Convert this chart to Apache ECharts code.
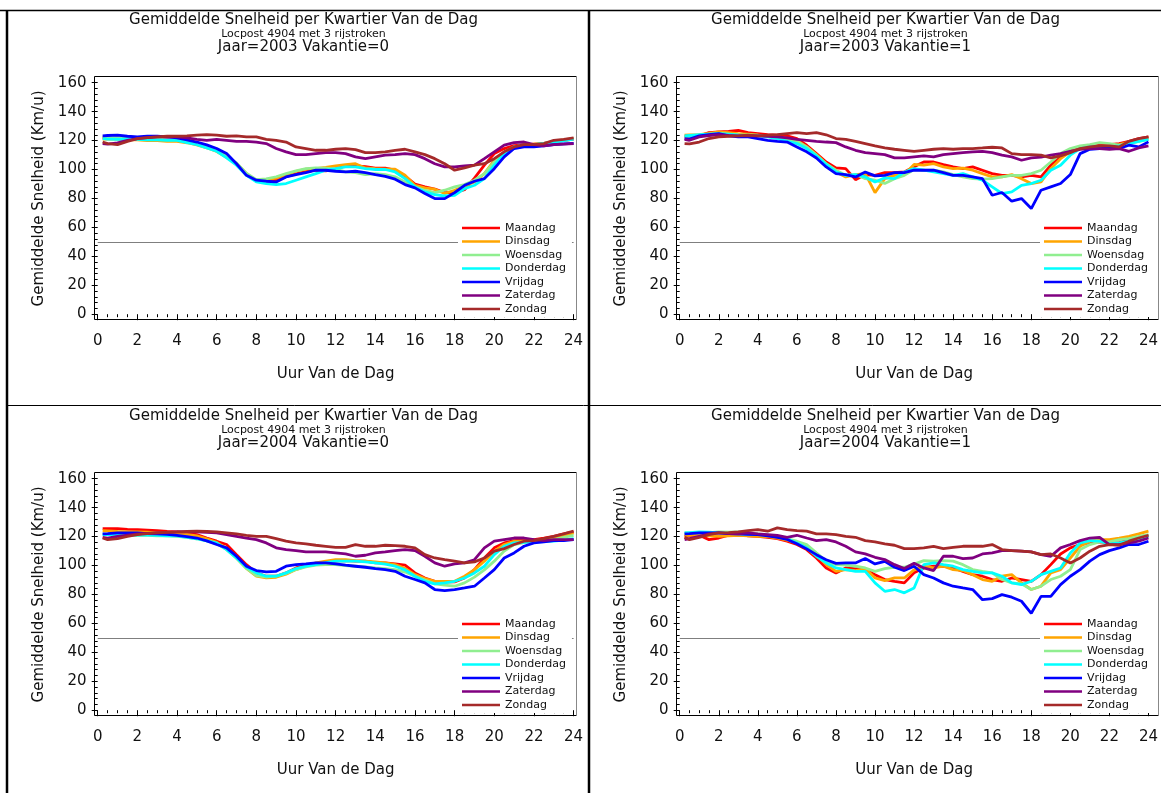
<!DOCTYPE html>
<html>
<head>
<meta charset="utf-8">
<script src="https://cdn.jsdelivr.net/npm/echarts@6/dist/echarts.min.js"></script>
<style>
html, body { margin: 0; padding: 0; background: #fff; }
#chart { width: 1161px; height: 793px; }
</style>
</head>
<body>
<div id="chart"></div>
<script>
// Gemiddelde snelheid per kwartier - 4 panelen (jaar x vakantie)
const HOURS = [0.25, 0.5, 1, 1.5, 2, 2.5, 3, 3.5, 4, 4.5, 5, 5.5,
               6, 6.5, 7, 7.5, 8, 8.5, 9, 9.5, 10, 10.5, 11, 11.5,
               12, 12.5, 13, 13.5, 14, 14.5, 15, 15.5, 16, 16.5, 17, 17.5,
               18, 18.5, 19, 19.5, 20, 20.5, 21, 21.5, 22, 22.5, 23, 23.5, 24];
const DAYS = ['Maandag', 'Dinsdag', 'Woensdag', 'Donderdag', 'Vrijdag', 'Zaterdag', 'Zondag'];
const REF_SPEED = 50;

// Jaar=2003 Vakantie=0
const ma03v0 = [122, 122, 122, 121.5, 121, 121, 120.5, 120.5, 120, 119.5, 118, 116,
  113, 109, 104, 97, 92, 92.5, 93, 95, 97, 98.5, 99.5, 99,
  100.5, 102.5, 102.5, 102, 101, 101, 99.5, 95.5, 90, 88, 86.5, 84,
  84, 86, 94, 103, 111, 114.5, 116.5, 117, 117.5, 118, 119, 120, 121];
const di03v0 = [121, 121, 121, 120.5, 120.5, 120, 120, 119.5, 119.5, 118.5, 117, 115,
  112.5, 108.5, 104, 97, 92.5, 93, 94, 96.5, 98.8, 100.2, 100.6, 101.5,
  102.5, 103.4, 104, 101.1, 100.6, 100.2, 100.2, 96, 89, 87.3, 86.4, 83.4,
  85.7, 88.7, 91.4, 97.2, 106.4, 112.2, 115.6, 116.8, 117.5, 118, 119.5, 120.5, 121.5];
const wo03v0 = [122.5, 122.5, 122, 122, 121.5, 121, 121, 120.5, 120.5, 119.5, 118, 116,
  113, 109, 104.5, 97.5, 93, 93.5, 95, 97.2, 99, 100.6, 101.1, 101,
  100.2, 98.3, 97.9, 96.5, 97.2, 96.5, 95, 91.4, 88, 85.7, 84.1, 85.7,
  88, 89.6, 92.6, 97.2, 105.2, 110, 115, 116.8, 117.2, 118, 119, 120, 121.4];
const do03v0 = [121.4, 121, 120.9, 120.9, 120.9, 120.5, 120.5, 120.2, 120.2, 118.5, 117.2, 115,
  112.6, 108, 103, 96, 91.4, 90.3, 89.6, 90.3, 92.6, 94.9, 97.2, 99.5,
  100.6, 101.8, 101.8, 100.6, 100, 100, 98.3, 93.7, 88, 84.5, 82.7, 81.7,
  82.2, 86.8, 89.1, 93.7, 103, 111, 115.6, 116.8, 117.2, 118, 119, 120, 121];
const vr03v0 = [123.2, 123.5, 123.7, 123, 122.5, 123, 123, 122.5, 121.8, 120.5, 119, 117,
  114.5, 111, 104, 96, 92.6, 91.9, 91.4, 94.9, 96.5, 97.9, 99.5, 99.5,
  98.8, 98.3, 98.8, 97.9, 96.5, 95.3, 93.3, 89.6, 87.3, 83.4, 79.9, 79.9,
  84, 89.1, 91.9, 93.7, 100.6, 108.7, 114.5, 115.6, 115.6, 116.3, 117.2, 117.7, 118.1];
const za03v0 = [117.9, 117.5, 118.4, 120.2, 121.4, 122, 122.5, 122.5, 122.5, 121.8, 120.9, 120.2,
  120.9, 120.2, 119.5, 119.5, 119, 117.9, 114.5, 112.2, 110.3, 110.3, 111, 111.7,
  111.7, 111, 108.7, 107.5, 108.7, 109.9, 110.3, 111, 110.3, 107.5, 104, 101.8,
  101.8, 102.5, 103, 107.5, 112.2, 116.8, 118.6, 119, 117.2, 116.3, 117.2, 117.5, 117.9];
const zo03v0 = [119, 117.9, 117.2, 119.5, 121.4, 122, 122.5, 123, 123, 123.2, 123.7, 124.1,
  123.7, 123, 123.2, 122.5, 122.5, 120.9, 120.2, 119, 115.6, 114.5, 113.3, 113.3,
  114, 114.5, 113.8, 111.7, 111.7, 112.2, 113.3, 114, 112.2, 110.3, 107.5, 104,
  99.5, 101.1, 103, 104, 107.5, 112.2, 115.6, 117.2, 117.2, 117.9, 120.2, 120.9, 121.8];

// Jaar=2003 Vakantie=1
const ma03v1 = [122.5, 123, 123.2, 125.5, 126, 126.4, 127.1, 125.5, 124.8, 124.1, 123.7, 123.2,
  121.4, 116.8, 111, 105.2, 101.1, 100.6, 93, 96.5, 96, 97.9, 97.9, 98.3,
  102, 105.2, 105.2, 103.4, 101.8, 100.6, 101.8, 99.5, 97.2, 96, 96, 94.9,
  96, 94.9, 103, 108.7, 113.3, 114.5, 115.6, 116.8, 117.2, 117.9, 119.5, 121.4, 122.5];
const di03v1 = [123.7, 124, 124.1, 125, 126, 125.5, 124.8, 124.5, 123.7, 123.2, 122.5, 121.5,
  120.2, 115.6, 110.3, 104, 98.3, 94.9, 96.5, 97.2, 84, 93.7, 96, 96.5,
  103.5, 103, 104.1, 101.8, 100.6, 101, 99.5, 97.2, 94.9, 94.9, 96.5, 93.7,
  90.3, 91.4, 100.6, 107.5, 112.2, 114.5, 115.6, 115.6, 116.3, 117.2, 119, 120.9, 121.8];
const wo03v1 = [122.5, 123, 123.7, 124.5, 124.8, 124.5, 124.1, 124, 123.7, 123, 121.8, 120.5,
  119.5, 115.6, 109.9, 104, 99.5, 96, 96.5, 93.7, 92.6, 90.3, 93.7, 96,
  100, 99.5, 99.5, 98.3, 96.5, 94.9, 93.7, 93.3, 93.7, 94.9, 96, 96,
  97.2, 99.5, 105.2, 111, 114.5, 116.3, 117.2, 118.6, 117.9, 116.8, 117.9, 119.5, 120.9];
const do03v1 = [123.2, 123.5, 124.1, 124.5, 124.8, 124.5, 123.7, 123.5, 123.2, 122.5, 121.4, 119.5,
  117.9, 114.5, 109.4, 103.5, 98.3, 96, 96.5, 94.9, 91.4, 94.2, 93.7, 98.3,
  100.6, 99.5, 98.3, 97.2, 96, 97.2, 94.9, 92.6, 88, 83.4, 84.5, 89.1,
  90.3, 92.6, 99.5, 103, 109.9, 114.5, 115.6, 115.6, 115.6, 116.3, 117.9, 119.5, 120.9];
const vr03v1 = [121.4, 121, 123.2, 124.1, 124.8, 123.2, 122.5, 122.5, 121.4, 120.2, 119.5, 119,
  115.6, 112.2, 108, 101.8, 97.2, 96.5, 94.9, 98.3, 95.6, 96, 97.9, 97.9,
  99.5, 99.5, 99.5, 97.9, 96, 96, 94.9, 93.7, 82.2, 84.1, 78.1, 79.9,
  73, 85.7, 88, 90.3, 96.5, 111, 114, 114.5, 114.9, 114.5, 116.8, 115.6, 119.1];
const za03v1 = [120.9, 120.2, 122.5, 123.5, 124.1, 123.5, 123.2, 123.2, 123.2, 123, 122.5, 121.8,
  120.9, 120.2, 119.5, 119, 118.6, 115.6, 113.3, 111.7, 111, 110.3, 108, 108,
  108.7, 109.4, 108.7, 110.3, 111, 111.7, 112.2, 112.6, 111.7, 109.9, 108.7, 106.4,
  108, 108.5, 109.9, 111, 112.6, 114, 114.5, 114.5, 114, 114.5, 112.6, 114.9, 116.3];
const zo03v1 = [117.9, 117.7, 119, 121.4, 122.5, 123, 123.2, 123.7, 123.2, 123.7, 124.1, 124.8,
  125.5, 124.8, 125.5, 124, 121.4, 120.9, 119.5, 117.9, 116.3, 114.9, 114, 113.3,
  112.6, 113.3, 114, 114.5, 114, 114.5, 114.5, 114.9, 115.4, 114.9, 111, 110.3,
  110.3, 109.9, 108, 109.4, 111.7, 114.5, 115.6, 116.3, 116.3, 115.6, 119.5, 121.4, 122.5];

// Jaar=2004 Vakantie=0
const ma04v0 = [125.5, 125.5, 125.5, 125, 124.8, 124.5, 124.1, 123.5, 123.2, 122.5, 121.4, 119,
  116.8, 114.5, 107.5, 100.6, 94.9, 92.6, 92.6, 94.9, 98.3, 100.2, 100.6, 101.8,
  103, 103.4, 103, 103, 101.8, 101.8, 101.1, 100.2, 94.9, 91.4, 89.1, 88.7,
  88.7, 91.4, 97.2, 105.2, 112.2, 115.6, 117.2, 117.9, 117.9, 119, 120.2, 121.8, 123.2];
const di04v0 = [124.1, 124, 123.5, 123.2, 123.2, 123, 122.5, 122.5, 122, 121.5, 120.5, 118.5,
  116, 112, 105.2, 98, 92.6, 91.4, 91.9, 94, 97.2, 99.5, 101.8, 103,
  104, 104, 103.4, 103, 102.5, 101.8, 100.6, 98, 93.7, 91, 89.1, 89.1,
  89.1, 92.6, 97.2, 103, 109.9, 114.5, 116.8, 117, 117.2, 118, 119, 120.5, 122.5];
const wo04v0 = [121.8, 121.5, 121, 120.9, 120.9, 120.9, 120.5, 120.5, 120.2, 119.5, 118.5, 117,
  115, 111, 105, 98, 93, 91.9, 92.6, 94.5, 97.2, 99, 100.2, 100.6,
  100.6, 100, 99.5, 99, 98.3, 97.9, 97.2, 95.5, 92.6, 90, 87.3, 86.5,
  85.7, 88, 92, 97, 103, 110, 114.5, 115.8, 116.8, 117.2, 117.9, 119.5, 120.9];
const do04v0 = [121.4, 121.4, 121.2, 121, 121, 121, 120.9, 120.5, 120.5, 119.5, 118.5, 117,
  115.6, 111, 105.2, 99, 94.9, 92.6, 92.6, 94.9, 97.9, 99.5, 100.6, 102,
  103, 103, 103, 102.5, 101.8, 101, 99.5, 97, 92.6, 89.1, 87.3, 88,
  89.1, 91.4, 94.9, 99.5, 107.5, 113.3, 115.6, 116, 116.3, 116.5, 116.8, 117.5, 118.6];
const vr04v0 = [121.8, 122, 122.5, 122.5, 122.5, 122, 121.8, 121.5, 120.9, 120, 119, 117,
  114.5, 112.2, 106.4, 99.5, 96.5, 95.6, 96, 99.5, 100.6, 101.1, 101.8, 101.8,
  101.1, 100.2, 99.5, 98.8, 97.9, 97.2, 96, 92.6, 90.3, 88, 83.4, 82.7,
  83.4, 84.5, 85.7, 91.4, 97.2, 105.2, 108.7, 113.3, 115.6, 116.3, 117.2, 117.2, 117.9];
const za04v0 = [119.5, 119, 120.2, 121, 121.8, 122.2, 122.5, 122.8, 123.2, 123.2, 123.2, 123,
  122.5, 121.4, 120.2, 119, 117.9, 115.6, 112.2, 111, 110.3, 109.4, 109.4, 109.4,
  108.7, 108, 106.4, 107.1, 108.7, 109.4, 110.3, 111, 110.3, 106.4, 101.8, 99.5,
  101.1, 101.8, 104, 112.2, 116.8, 117.9, 119, 119, 117.9, 117.2, 117.9, 117.9, 117.9];
const zo04v0 = [119, 117.9, 118.6, 120.2, 121.4, 122, 122.5, 123, 123.2, 123.5, 123.7, 123.5,
  123.2, 122.5, 121.8, 120.9, 120.2, 120.2, 118.6, 116.8, 115.6, 114.9, 114, 113.3,
  112.6, 112.6, 114.5, 113.3, 113.3, 114, 113.8, 113.3, 112.2, 107.5, 105.2, 104,
  103, 101.8, 102.5, 105.2, 109.9, 111.7, 114.5, 116.8, 117.2, 118.6, 120.2, 121.8, 123.7];

// Jaar=2004 Vakantie=1
const ma04v1 = [120.2, 120.5, 120.9, 117.9, 119, 121, 121.8, 120.5, 120.2, 119.5, 118.6, 116.8,
  114.5, 111, 105.2, 98.3, 94.9, 98.3, 97.9, 97.2, 93.7, 90.3, 89.1, 88,
  95, 98.3, 99.5, 99.5, 98.3, 96, 93.7, 92.6, 90.3, 89.1, 91.4, 90.3,
  89.1, 93.7, 100.6, 108, 112.2, 114.5, 115.6, 116.3, 115.6, 115.6, 117.9, 119.5, 120.9];
const di04v1 = [120.9, 121, 120.9, 120.5, 120.2, 120.5, 120.9, 120.5, 120.2, 120, 119, 117.5,
  115.6, 113.3, 107.5, 100.6, 96, 97.2, 96.5, 97.9, 91.4, 89.6, 91.4, 91.4,
  97, 99.5, 98.3, 99.5, 97.2, 96.5, 93.7, 90.3, 89.1, 92.6, 93.7, 88,
  83.4, 85.7, 94.9, 97.2, 105.2, 113.3, 116.8, 117.9, 117.9, 119, 120.2, 121.8, 123.7];
const wo04v1 = [122.5, 122.5, 122.5, 122.8, 123.2, 123, 123.2, 122.5, 121.8, 121, 120.2, 118.5,
  116.8, 114.5, 108.7, 103, 100.6, 100.2, 99.5, 98.3, 96, 97.9, 98.8, 98.8,
  101, 103.4, 103, 103.4, 103, 100.6, 97.2, 96, 94.9, 90.3, 88, 87.3,
  83.4, 85.7, 90.3, 92.6, 97.2, 111, 114.5, 116.3, 116.3, 117.9, 118.6, 120.2, 121.4];
const do04v1 = [122.5, 122.8, 123.2, 123, 122.5, 122, 121.8, 121.5, 121.4, 121, 120.2, 118.5,
  115.6, 112.2, 106.4, 101.8, 98.3, 97.2, 96, 96, 88, 82.2, 83.4, 81.1,
  84.5, 100.6, 101.8, 100.6, 99.5, 97.2, 96, 94.9, 94.9, 92.6, 88, 86.8,
  89.1, 93.7, 96, 98.3, 108.7, 115.6, 117.2, 116.8, 114.9, 115.6, 116.8, 118.6, 120.2];
const vr04v1 = [121.8, 122, 122.5, 122.5, 122.5, 122, 121.8, 121.5, 121.4, 120.5, 119.5, 118,
  115, 111.5, 107.5, 104, 101.5, 101.8, 101.8, 104.8, 101.1, 102.9, 98.8, 96.5,
  99.5, 93.7, 91.4, 88, 85.7, 84.5, 83.4, 76.4, 77.1, 79.9, 78.1, 75.3,
  67, 78.7, 78.7, 86.8, 92.6, 97.2, 103, 107.5, 110.3, 112.2, 114.5, 114.5, 116.8];
const za04v1 = [117.9, 118.6, 120.2, 121.8, 122.5, 122, 121.8, 122.5, 121.8, 121.4, 120.9, 119.5,
  120.9, 119, 117.2, 117.9, 116.3, 113.3, 109.4, 108, 105.7, 104.1, 100.6, 97.9,
  101.5, 98.3, 96.5, 106.4, 106.4, 104.8, 105.2, 108, 108.7, 110.3, 110.3, 109.9,
  109.4, 107.5, 106.4, 112.2, 114.5, 117.2, 119, 119.5, 114.5, 114.5, 115.6, 116.8, 119];
const zo04v1 = [119.5, 117.9, 119.5, 121.4, 122.5, 122.8, 123.2, 124.1, 124.8, 123.7, 126, 124.8,
  124.1, 123.7, 121.8, 121.8, 121.4, 120.2, 119.5, 117.2, 116.3, 114.9, 114, 111.7,
  111.7, 112.2, 113.3, 111.7, 112.6, 113.3, 113.3, 113.3, 114.5, 111, 110.3, 109.9,
  109.4, 107.5, 108, 105.2, 101.8, 105.2, 109.9, 113.3, 114.5, 114, 116.8, 119, 120.9];

const TITLE = 'Gemiddelde Snelheid per Kwartier Van de Dag';
const SUBTITLE = 'Locpost 4904 met 3 rijstroken';
const FONT = 'DejaVu Sans';
const COLORS = ['#ff0000', '#ffa500', '#90ee90', '#00ffff', '#0000ff', '#800080', '#a52a2a'];

const PANELS = [
    { label: 'Jaar=2003 Vakantie=0', dx: 0,   dy: 0,   data: [ma03v0, di03v0, wo03v0, do03v0, vr03v0, za03v0, zo03v0] },
    { label: 'Jaar=2003 Vakantie=1', dx: 582, dy: 0,   data: [ma03v1, di03v1, wo03v1, do03v1, vr03v1, za03v1, zo03v1] },
    { label: 'Jaar=2004 Vakantie=0', dx: 0,   dy: 396, data: [ma04v0, di04v0, wo04v0, do04v0, vr04v0, za04v0, zo04v0] },
    { label: 'Jaar=2004 Vakantie=1', dx: 582, dy: 396, data: [ma04v1, di04v1, wo04v1, do04v1, vr04v1, za04v1, zo04v1] }
];

const txt = (size) => ({ fontFamily: FONT, fontSize: size, fontWeight: 'normal', color: '#111' });
const line = (x1, y1, x2, y2, color, w) => ({
    type: 'line', silent: true, z: 100,
    shape: { x1: x1, y1: y1, x2: x2, y2: y2 },
    style: { stroke: color, lineWidth: w }
});

const title = [], grid = [], xAxis = [], yAxis = [], legend = [], series = [];
// kaders tussen de panelen
const graphic = [
    line(0, 10.5, 1161, 10.5, '#000', 1.5),
    line(7, 10, 7, 793, '#000', 2.5),
    line(589, 10, 589, 793, '#000', 2.5),
    line(6, 405.5, 1161, 405.5, '#000', 1)
];

PANELS.forEach((p, i) => {
    const cx = 303.5 + p.dx;
    title.push({ text: TITLE, left: cx, top: 13 + p.dy, textAlign: 'center', padding: 0, textStyle: txt(15) });
    title.push({ text: SUBTITLE, left: cx, top: 29 + p.dy, textAlign: 'center', padding: 0, textStyle: txt(11) });
    title.push({ text: p.label, left: cx, top: 40 + p.dy, textAlign: 'center', padding: 0, textStyle: txt(15) });

    grid.push({ left: 97.7 + p.dx, top: 82.7 + p.dy, width: 475.9, height: 231.5 });

    xAxis.push({
        gridIndex: i, type: 'value', min: 0, max: 24, interval: 2, offset: 5.3,
        axisLine: { show: false },
        axisTick: { show: true, length: 6, lineStyle: { color: '#000' } },
        minorTick: { show: true, splitNumber: 4, length: 3, lineStyle: { color: '#000' } },
        splitLine: { show: false },
        axisLabel: { margin: 14, ...txt(15) },
        name: 'Uur Van de Dag', nameLocation: 'middle', nameGap: 47, nameTextStyle: txt(15)
    });
    yAxis.push({
        gridIndex: i, type: 'value', min: 0, max: 160, interval: 20, offset: 3.2,
        axisLine: { show: false },
        axisTick: { show: true, length: 6, lineStyle: { color: '#000' } },
        minorTick: { show: true, splitNumber: 5, length: 3, lineStyle: { color: '#000' } },
        splitLine: { show: false },
        axisLabel: { margin: 8, ...txt(15) },
        name: 'Gemiddelde Snelheid (Km/u)', nameLocation: 'middle', nameGap: 48, nameTextStyle: txt(15)
    });

    legend.push({
        data: DAYS, orient: 'vertical', left: 458 + p.dx, top: 220 + p.dy,
        icon: 'rect', itemWidth: 38, itemHeight: 2.5, itemGap: 1.5, padding: [2, 6, 2, 4],
        backgroundColor: '#fff', selectedMode: false, z: 20,
        textStyle: { fontFamily: FONT, fontSize: 11, color: '#111', lineHeight: 12 }
    });

    DAYS.forEach((d, k) => {
        const s = {
            name: d, type: 'line', xAxisIndex: i, yAxisIndex: i,
            data: HOURS.map((h, j) => [h, p.data[k][j]]),
            symbol: 'none', z: 2 + k,
            lineStyle: { width: 2.8, color: COLORS[k] },
            itemStyle: { color: COLORS[k] }
        };
        if (k === 0) {
            s.markLine = {
                silent: true, symbol: 'none', label: { show: false },
                lineStyle: { color: '#7f7f7f', width: 1, type: 'solid' },
                data: [{ yAxis: REF_SPEED }]
            };
        }
        series.push(s);
    });

    // plotkader
    const L = 94.5 + p.dx, R = 576.5 + p.dx, T = 76.5 + p.dy, B = 319.5 + p.dy;
    graphic.push(line(L, T, R, T, '#000', 1));
    graphic.push(line(L, T, L, B, '#000', 1));
    graphic.push(line(L, B, R, B, '#000', 1));
    graphic.push(line(R, T, R, B, '#888', 1));
});

const chart = echarts.init(document.getElementById('chart'));
chart.setOption({
    animation: false,
    backgroundColor: '#fff',
    title: title,
    grid: grid,
    xAxis: xAxis,
    yAxis: yAxis,
    legend: legend,
    series: series,
    graphic: graphic
});
</script>
</body>
</html>
